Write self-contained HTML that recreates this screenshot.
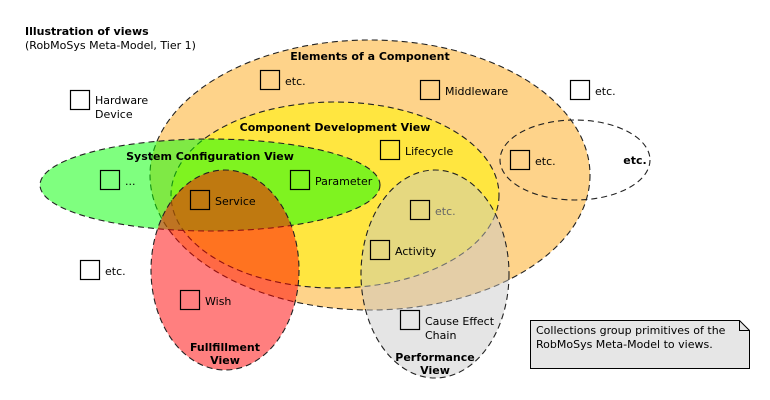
<!DOCTYPE html>
<html><head><meta charset="utf-8"><style>
html,body{margin:0;padding:0;background:#fff;}
svg{display:block;font-family:"DejaVu Sans","Liberation Sans",sans-serif;font-size:11px;}
.b{font-weight:bold;}
rect.s{fill:none;stroke:#000;stroke-width:1.2;}
</style></head><body>
<svg width="770" height="400" viewBox="0 0 770 400" xmlns="http://www.w3.org/2000/svg">
<g stroke="#222" stroke-width="1.1" stroke-dasharray="6,4">
<ellipse cx="370" cy="175" rx="220" ry="135" fill="#fed38a"/>
<ellipse cx="335" cy="195" rx="164" ry="93" fill="#ffe640"/>
<ellipse cx="210" cy="185" rx="170" ry="46" fill="rgba(0,255,0,0.5)"/>
<ellipse cx="225" cy="270" rx="74" ry="100" fill="rgba(255,0,0,0.5)"/>
<ellipse cx="435" cy="274" rx="74" ry="104" fill="rgba(200,200,200,0.47)"/>
<ellipse cx="575" cy="160" rx="75" ry="40" fill="none"/>
</g>
<text x="25" y="35" class="b">Illustration of views</text>
<text x="25" y="49" font-size="11">(RobMoSys Meta-Model, Tier 1)</text>
<text x="370" y="60" class="b" text-anchor="middle">Elements of a Component</text>
<text x="335" y="131" class="b" text-anchor="middle">Component Development View</text>
<text x="210" y="160" class="b" text-anchor="middle">System Configuration View</text>
<text x="635" y="164" class="b" text-anchor="middle">etc.</text>
<text x="225" y="351" class="b" text-anchor="middle">Fullfillment</text>
<text x="225" y="364" class="b" text-anchor="middle">View</text>
<text x="435" y="361" class="b" text-anchor="middle">Performance</text>
<text x="435" y="374" class="b" text-anchor="middle">View</text>

<rect class="s" x="70.5" y="90.5" width="19" height="19"/><text x="95" y="104">Hardware</text><text x="95" y="118">Device</text>
<rect class="s" x="260.5" y="70.5" width="19" height="19"/><text x="285" y="85">etc.</text>
<rect class="s" x="420.5" y="80.5" width="19" height="19"/><text x="445" y="95">Middleware</text>
<rect class="s" x="570.5" y="80.5" width="19" height="19"/><text x="595" y="95">etc.</text>
<rect class="s" x="380.5" y="140.5" width="19" height="19"/><text x="405" y="155">Lifecycle</text>
<rect class="s" x="510.5" y="150.5" width="19" height="19"/><text x="535" y="165">etc.</text>
<rect class="s" x="100.5" y="170.5" width="19" height="19"/><text x="125" y="185">...</text>
<rect class="s" x="290.5" y="170.5" width="19" height="19"/><text x="315" y="185">Parameter</text>
<rect class="s" x="190.5" y="190.5" width="19" height="19"/><text x="215" y="205">Service</text>
<rect class="s" x="410.5" y="200.5" width="19" height="19"/><text x="435" y="215" fill="#666">etc.</text>
<rect class="s" x="370.5" y="240.5" width="19" height="19"/><text x="395" y="255">Activity</text>
<rect class="s" x="80.5" y="260.5" width="19" height="19"/><text x="105" y="275">etc.</text>
<rect class="s" x="180.5" y="290.5" width="19" height="19"/><text x="205" y="305">Wish</text>
<rect class="s" x="400.5" y="310.5" width="19" height="19"/><text x="425" y="325">Cause Effect</text><text x="425" y="339">Chain</text>

<path d="M530.5 320.5 H739.5 L749.5 330.5 V368.5 H530.5 Z" fill="#e6e6e6" stroke="#000" stroke-width="1"/>
<path d="M739.5 320.5 V330.5 H749.5" fill="none" stroke="#000" stroke-width="1"/>
<text x="536" y="334" font-size="11">Collections group primitives of the</text>
<text x="536" y="348" font-size="11">RobMoSys Meta-Model to views.</text>
</svg>
</body></html>
